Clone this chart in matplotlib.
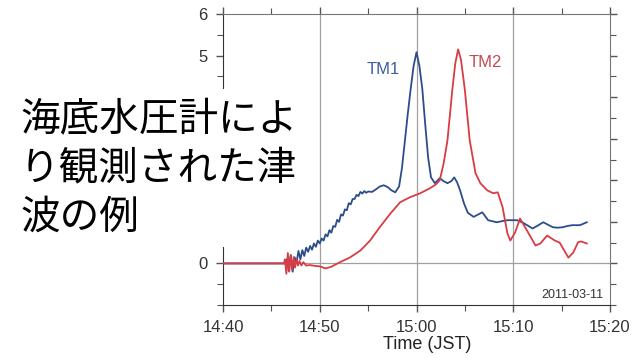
import matplotlib
matplotlib.use("Agg")
import matplotlib.pyplot as plt
from matplotlib.patches import Rectangle
from matplotlib.ticker import MultipleLocator

# Time in minutes after 14:40 JST, water height in metres
tm1_t = [0, 6.5, 6.6, 6.8, 7.0, 7.2, 7.4, 7.6, 7.8, 8.0, 8.2, 8.4, 8.6, 8.8, 9.0, 9.2,
         9.4, 9.6, 9.8, 10.0, 10.2, 10.4, 10.6, 10.8, 11.0, 11.2, 11.4, 11.6, 11.8, 12.0,
         12.2, 12.4, 12.6, 12.8, 13.0, 13.2, 13.4, 13.6, 13.8, 14.0, 14.2, 14.4, 14.6,
         14.8, 15.0, 15.4, 15.8, 16.2, 16.6, 17.0, 17.4, 17.8, 18.2, 18.5, 18.8, 19.1,
         19.4, 19.7, 20.0, 20.3, 20.6, 20.9, 21.2, 21.5, 21.9, 22.4, 22.8, 23.2, 23.6,
         23.9, 24.2, 24.5, 24.9, 25.3, 25.9, 26.4, 26.8, 27.4, 28.3, 28.9, 29.4, 30.0,
         30.4, 31.0, 32.0, 32.6, 33.1, 33.6, 34.1, 34.6, 35.1, 35.6, 36.1, 36.9, 37.6]
tm1_v = [0, 0, 0.1, -0.18, 0.2, -0.2, 0.15, 0.02, 0.3, 0.1, 0.32, 0.18, 0.38, 0.28, 0.42,
         0.33, 0.48, 0.4, 0.55, 0.48, 0.6, 0.55, 0.7, 0.65, 0.8, 0.74, 0.9, 0.88, 1.05,
         1.0, 1.18, 1.15, 1.3, 1.28, 1.45, 1.42, 1.55, 1.55, 1.65, 1.62, 1.72, 1.68,
         1.74, 1.70, 1.73, 1.72, 1.78, 1.85, 1.88, 1.84, 1.76, 1.71, 1.85, 2.3, 2.95,
         3.6, 4.2, 4.75, 5.08, 4.75, 4.2, 3.35, 2.55, 2.07, 1.93, 2.05, 1.98, 1.93, 1.98,
         2.07, 1.95, 1.76, 1.45, 1.22, 1.12, 1.18, 1.23, 1.04, 0.99, 1.02, 1.04, 1.04,
         1.04, 0.98, 0.84, 0.92, 0.99, 0.93, 0.87, 0.86, 0.87, 0.9, 0.92, 0.92, 0.99]

tm2_t = [0, 6.3, 6.4, 6.55, 6.7, 6.85, 7.0, 7.15, 7.3, 7.45, 7.6, 7.75, 7.9, 8.1, 8.3,
         8.6, 9.0, 9.5, 10.0, 10.6, 11.2, 12.0, 13.1, 14.2, 15.2, 16.2, 17.3, 18.3, 19.3,
         20.4, 21.4, 22.0, 22.4, 22.8, 23.2, 23.7, 24.0, 24.3, 24.6, 25.0, 25.5, 26.1,
         26.6, 27.3, 27.9, 28.4, 28.9, 29.4, 29.7, 30.2, 30.7, 31.4, 32.3, 32.8, 33.5,
         34.3, 34.8, 35.7, 36.2, 36.7, 37.0, 37.6]
tm2_v = [0, 0, 0.1, -0.25, 0.25, -0.2, 0.2, -0.15, 0.15, -0.1, 0.1, -0.05, 0.06, -0.05,
         0.03, -0.05, -0.04, -0.06, -0.07, -0.12, -0.08, 0.02, 0.14, 0.31, 0.55, 0.87,
         1.2, 1.47, 1.59, 1.69, 1.81, 1.9, 2.0, 2.4, 2.96, 4.17, 4.8, 5.15, 4.9, 4.17,
         2.96, 2.17, 1.93, 1.76, 1.69, 1.71, 1.35, 0.72, 0.55, 0.75, 1.08, 0.8, 0.43,
         0.48, 0.67, 0.55, 0.5, 0.14, 0.26, 0.51, 0.53, 0.48]

x_ticks = [0, 10, 20, 30, 40]
x_labels = ["14:40", "14:50", "15:00", "15:10", "15:20"]
y_ticks = [0, 1, 2, 3, 4, 5, 6]
# labels 1-4 sit under the caption panel
y_labels = ["0", "", "", "", "", "5", "6"]
title_lines = ["海底水圧計によ", "り観測された津", "波の例"]

blue = "#2c4c8c"
red = "#d83c44"
tick_font = "Liberation Sans"

fig = plt.figure(figsize=(6.4, 3.58), dpi=100)
ax = fig.add_axes([223 / 640, 1 - 305 / 358, 387 / 640, 291 / 358])

ax.plot(tm1_t, tm1_v, color=blue, lw=1.3, zorder=3)
ax.plot(tm2_t, tm2_v, color=red, lw=1.3, zorder=3)

ax.set_xlim(0, 40)
ax.set_ylim(-1, 6)
ax.set_xticks(x_ticks)
ax.set_xticklabels(x_labels, fontfamily=tick_font, fontsize=12, color="#333333")
ax.set_yticks(y_ticks)
ax.set_yticklabels(y_labels, fontfamily=tick_font, fontsize=12, color="#333333")
ax.xaxis.set_minor_locator(MultipleLocator(5))
ax.yaxis.set_minor_locator(MultipleLocator(0.5))
ax.tick_params(axis="both", which="both", direction="out", color="#555555",
               top=True, right=True, labeltop=False, labelright=False)
ax.tick_params(which="major", length=5, width=1, pad=6)
ax.tick_params(which="minor", length=4, width=0.8)
for side in ("top", "right"):
    ax.spines[side].set_color("#777777")
for side in ("left", "bottom"):
    ax.spines[side].set_color("#333333")

for xv in x_ticks[1:-1]:
    ax.axvline(xv, color="#a0a0a0", lw=0.9, zorder=1)
ax.axhline(0, color="#a0a0a0", lw=0.9, zorder=1)

ax.set_xlabel("Time (JST)", fontfamily=tick_font, fontsize=13, color="#222222")
ax.xaxis.set_label_coords(0.527, -0.108)

ax.text(16.6, 4.67, "TM1", color="#3a5e9e", fontfamily=tick_font, fontsize=12,
        ha="center", va="center")
ax.text(27.1, 4.84, "TM2", color="#c44a50", fontfamily=tick_font, fontsize=12,
        ha="center", va="center")
ax.text(0.982, 0.035, "2011-03-11", transform=ax.transAxes, ha="right", va="center",
        fontfamily=tick_font, fontsize=9, color="#333333")

# White panel carrying the Japanese caption
fig.add_artist(Rectangle((0, 1 - 247 / 358), 303 / 640, 158 / 358,
                         transform=fig.transFigure, facecolor="white",
                         edgecolor="none", zorder=5))
for line, yc in zip(title_lines, [120, 168, 218]):
    fig.text(20 / 640, 1 - yc / 358, line, fontfamily=["Noto Sans CJK JP", "DejaVu Sans"],
             fontsize=28.5, color="black", ha="left", va="center", zorder=6)

fig.savefig("out.png", dpi=100)
